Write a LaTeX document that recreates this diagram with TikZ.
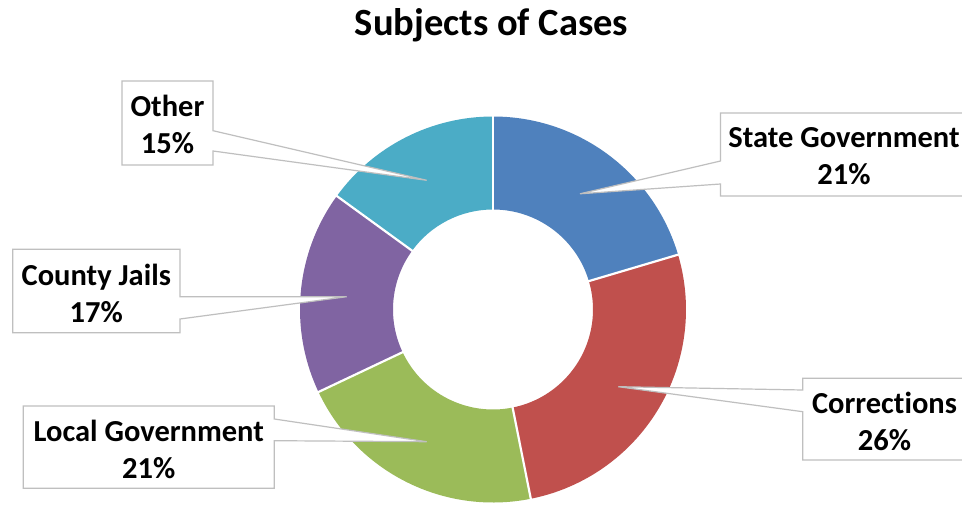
\documentclass[tikz,border=0pt]{standalone}
\usepackage{fontspec}
\setmainfont{Carlito}[Ligatures=NoCommon]
\usetikzlibrary{calc}
\definecolor{cblue}{HTML}{4F81BD}
\definecolor{cred}{HTML}{C0504D}
\definecolor{cgreen}{HTML}{9BBB59}
\definecolor{cpurple}{HTML}{8064A2}
\definecolor{cteal}{HTML}{4BACC6}
\definecolor{cborder}{HTML}{BFBFBF}
\tikzset{
  lbl/.style={font=\fontsize{30.5}{37}\selectfont\bfseries, align=center, inner sep=0pt, text=black},
  callout/.style={fill=white, draw=cborder, line width=1.2pt, line join=miter},
  sep/.style={draw=white, line width=2.2pt},
}
\newcommand{\slice}[3]{%
  \fill[#3] ($(C)+(#1:193)$) arc[start angle=#1, end angle=#2, radius=193]
    -- ($(C)+(#2:100)$) arc[start angle=#2, end angle=#1, radius=100] -- cycle;}
\begin{document}
\begin{tikzpicture}[x=1pt,y=1pt]
\clip (0,0) rectangle (962,-505);
\fill[white] (0,0) rectangle (962,-505);
\coordinate (C) at (493,-309.5);
% slices
\slice{90}{16.5}{cblue}
\slice{16.5}{-78.7}{cred}
\slice{-78.7}{-154.7}{cgreen}
\slice{-154.7}{-216}{cpurple}
\slice{-216}{-270}{cteal}
\foreach \a in {90,16.5,-78.7,-154.7,-216}
  \draw[sep] ($(C)+(\a:97)$) -- ($(C)+(\a:196)$);
% title
\node[font=\fontsize{38.5}{42}\selectfont\bfseries, anchor=base, inner sep=0pt] (title) at (491.5,-35.5) {Subjects of Cases};
% tips
\coordinate (tOther) at (426.7,-180.3);
\coordinate (tState) at (580,-193.8);
\coordinate (tCorr) at (618.3,-386.7);
\coordinate (tLocal) at (426.7,-441.7);
\coordinate (tJails) at (346.7,-296.7);
% callouts
\draw[callout] (122,-81) -- (213,-81) -- (213,-130.7) -- (tOther) -- (213,-151) -- (213,-165) -- (122,-165) -- cycle;
\draw[callout] (975,-113) -- (720.5,-113) -- (720.5,-161) -- (tState) -- (720.5,-184) -- (720.5,-196) -- (975,-196) -- cycle;
\draw[callout] (975,-378.3) -- (802.7,-378.3) -- (802.7,-390) -- (tCorr) -- (802.7,-411.7) -- (802.7,-460) -- (975,-460) -- cycle;
\draw[callout] (23.3,-406) -- (274.3,-406) -- (274.3,-419) -- (tLocal) -- (274.3,-440.7) -- (274.3,-488.3) -- (23.3,-488.3) -- cycle;
\draw[callout] (12.7,-249.3) -- (180,-249.3) -- (180,-296.7) -- (tJails) -- (180,-319) -- (180,-332.7) -- (12.7,-332.7) -- cycle;
% labels
\node[lbl] (lOther) at (167.5,-124) {Other\\15\%};
\node[lbl] (lState) at (844,-156.3) {State Government\\21\%};
\node[lbl] (lCorr) at (884.5,-421.3) {Corrections\\26\%};
\node[lbl] (lLocal) at (148.8,-449.5) {Local Government\\21\%};
\node[lbl] (lJails) at (96.3,-293.3) {County Jails\\17\%};
\end{tikzpicture}
\end{document}
